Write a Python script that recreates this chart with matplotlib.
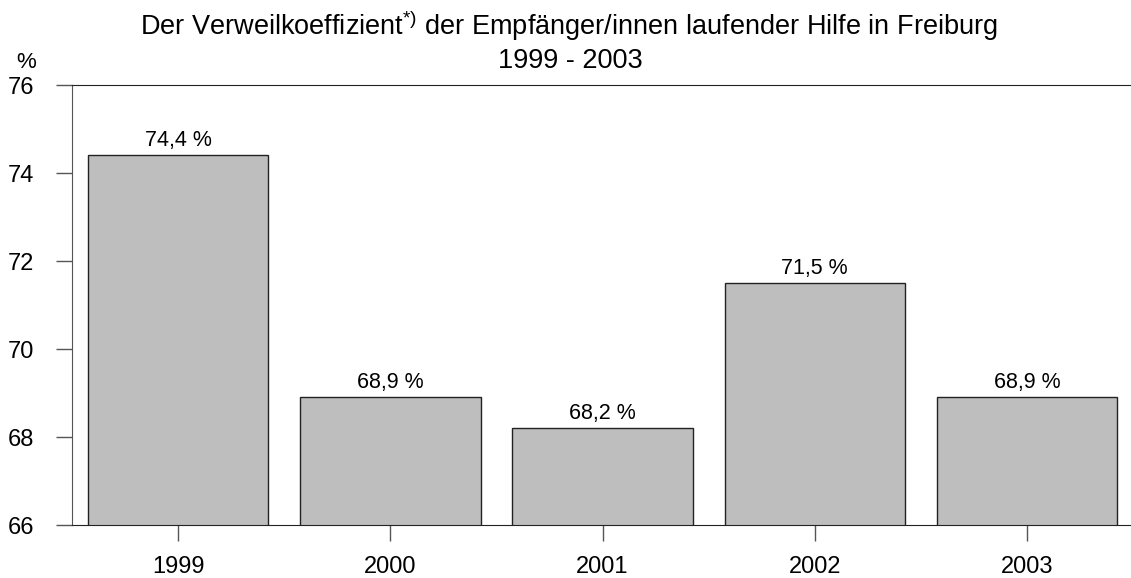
import numpy as np
import matplotlib
matplotlib.use('Agg')
import matplotlib.pyplot as plt

# data
years = ['1999', '2000', '2001', '2002', '2003']
values = [74.4, 68.9, 68.2, 71.5, 68.9]
yticks = [66, 68, 70, 72, 74, 76]

plt.rcParams['font.family'] = ['Liberation Sans', 'DejaVu Sans']
plt.rcParams['font.size'] = 15.5

W, H = 1131, 578
fig = plt.figure(figsize=(W / 100, H / 100), dpi=100)
ax = fig.add_axes([72 / W, 53 / H, (W - 72) / W, 440 / H])

x = np.arange(len(years))
bars = ax.bar(x, values, width=0.85, bottom=0, color='#BEBEBE',
              edgecolor='#222222', linewidth=1)
for xi, v in zip(x, values):
    ax.annotate(f'{v:.1f} %'.replace('.', ','), (xi, v), xytext=(0, 3),
                textcoords='offset points', ha='center', va='bottom')

ax.set_xlim(-0.5, 4.49)
ax.set_ylim(66, 76)
ax.set_xticks(x)
ax.set_xticklabels(years)
ax.set_yticks(yticks)
ax.tick_params(axis='both', length=11.5, width=1, color='#555555',
               labelsize=17)
ax.tick_params(axis='y', pad=15.5)
ax.tick_params(axis='x', pad=11)
ax.spines['right'].set_visible(False)
for s in ['top', 'bottom']:
    ax.spines[s].set_color('#222222')
ax.spines['left'].set_color('#555555')

fig.text(569 / W, 1 - 35 / H,
         r'Der Verweilkoeffizient$^{\mathregular{*)}}$ der Empfänger/innen laufender Hilfe in Freiburg',
         ha='center', va='baseline', fontsize=19.5)
fig.text(570 / W, 1 - 68 / H, '1999 - 2003', ha='center', va='baseline',
         fontsize=19.5)
fig.text(26 / W, 1 - 68 / H, '%', ha='center', va='baseline', fontsize=16)

fig.savefig('out.png', dpi=100)
